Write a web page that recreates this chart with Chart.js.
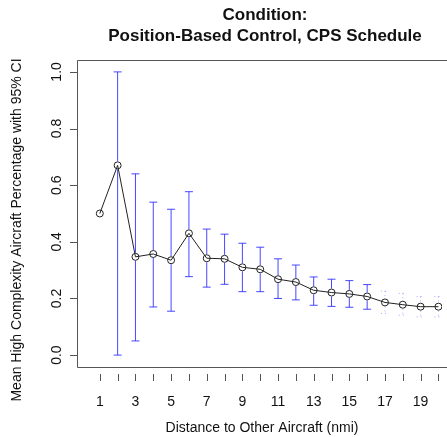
<!DOCTYPE html>
<html><head><meta charset="utf-8">
<script src="https://cdn.jsdelivr.net/npm/chart.js@4"></script>
<style>html,body{margin:0;padding:0;background:#fff}#wrap{width:447px;height:437px}</style>
</head><body><div id="wrap"><canvas id="chart"></canvas></div>
<script>
const distances = [1,2,3,4,5,6,7,8,9,10,11,12,13,14,15,16,17,18,19,20];
const means = [0.50,0.67,0.347,0.357,0.335,0.43,0.342,0.34,0.31,0.303,0.268,0.258,0.229,0.221,0.216,0.207,0.186,0.178,0.171,0.171];
const upper = [null,1.0,0.64,0.54,0.515,0.577,0.445,0.427,0.395,0.381,0.34,0.318,0.276,0.268,0.263,0.249,0.226,0.218,0.207,0.207];
const lower = [null,0.0,0.05,0.17,0.155,0.277,0.24,0.25,0.224,0.224,0.2,0.195,0.176,0.172,0.169,0.162,0.147,0.141,0.135,0.135];
const yTicks = [0.0,0.2,0.4,0.6,0.8,1.0];
const xLabels = [1,3,5,7,9,11,13,15,17,19];

const F = "Liberation Sans, Arial, sans-serif";

const rPlot = {
id:"rPlot",
afterDatasetsDraw(c){
const g=c.ctx, a=c.chartArea, xs=c.scales.x, ys=c.scales.y;
g.save();
// error bars
for(let i=0;i<distances.length;i++){
if(upper[i]==null) continue;
const x=xs.getPixelForValue(distances[i]);
const yu=ys.getPixelForValue(upper[i]), yl=ys.getPixelForValue(lower[i]);
const ym=ys.getPixelForValue(means[i]);
g.strokeStyle = i>=16 ? "rgba(90,90,255,0.5)" : "rgba(40,40,255,0.85)";
g.lineWidth=1;
g.setLineDash(i>=16?[1,3]:[]);
g.beginPath();
g.moveTo(x,yu);g.lineTo(x,ym-4);
g.moveTo(x,ym+4);g.lineTo(x,yl);
g.moveTo(x-4,yu);g.lineTo(x+4,yu);
g.moveTo(x-4,yl);g.lineTo(x+4,yl);
g.stroke();
}
g.setLineDash([]);
// box, open to the right edge of the window
const L=a.left+0.5, T=a.top+0.5, B=a.bottom+0.5, R=c.width+2;
g.strokeStyle="#555";g.lineWidth=1;
g.beginPath();g.moveTo(R,T);g.lineTo(L,T);g.lineTo(L,B);g.lineTo(R,B);g.stroke();
// x ticks
g.fillStyle="#111";g.font="14px "+F;g.textAlign="center";g.textBaseline="middle";
g.beginPath();
distances.forEach(d=>{const x=Math.round(xs.getPixelForValue(d))+0.5;g.moveTo(x,a.bottom+7);g.lineTo(x,a.bottom+14);});
g.stroke();
xLabels.forEach(d=>g.fillText(String(d),xs.getPixelForValue(d),a.bottom+35));
// y ticks
g.beginPath();
yTicks.forEach(v=>{const y=Math.round(ys.getPixelForValue(v))+0.5;g.moveTo(a.left,y);g.lineTo(a.left-7,y);});
g.stroke();
yTicks.forEach(v=>{g.save();g.translate(a.left-20,ys.getPixelForValue(v));g.rotate(-Math.PI/2);g.fillText(v.toFixed(1),0,0);g.restore();});
// titles
g.font="bold 17px "+F;
g.fillText("Condition:",265,15);
g.fillText("Position-Based Control, CPS Schedule",265,36);
g.font="14px "+F;
g.fillText("Distance to Other Aircraft (nmi)",262,428);
g.save();g.translate(17,230);g.rotate(-Math.PI/2);
g.fillText("Mean High Complexity Aircraft Percentage with 95% CI",0,0);g.restore();
g.restore();
}
};

new Chart(document.getElementById("chart"),{
type:"line",
data:{datasets:[{
data:distances.map((d,i)=>({x:d,y:means[i]})),
borderColor:"#222",borderWidth:1,
pointRadius:3.5,pointBackgroundColor:"rgba(0,0,0,0)",pointBorderColor:"#222",pointBorderWidth:1,
tension:0
}]},
options:{
responsive:true,maintainAspectRatio:false,animation:false,
layout:{padding:{left:77,right:0,top:60,bottom:70}},
plugins:{legend:{display:false},tooltip:{enabled:false}},
scales:{
x:{type:"linear",min:-0.28,max:20.2,grid:{display:false},border:{display:false},ticks:{display:false},afterFit(s){s.height=0;}},
y:{min:-0.042,max:1.042,grid:{display:false},border:{display:false},ticks:{display:false},afterFit(s){s.width=0;}}
}
},
plugins:[rPlot]
});
</script></body></html>
